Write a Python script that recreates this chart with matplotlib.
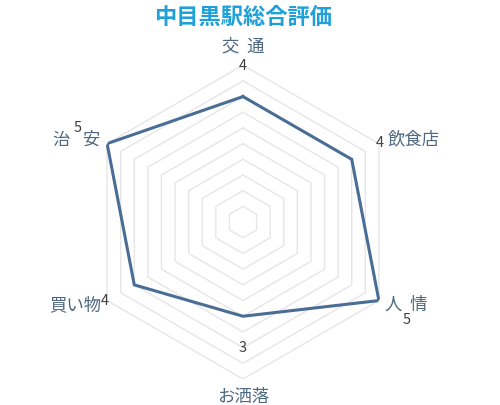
import numpy as np
import matplotlib
matplotlib.use('Agg')
import matplotlib.pyplot as plt

plt.rcParams['font.family'] = ['Noto Sans CJK JP', 'DejaVu Sans']

# data
categories = ['交  通', '飲食店', '人  情', 'お洒落', '買い物', '治安']
scores = [4, 4, 5, 3, 4, 5]
rings = [0.5, 1.0, 1.5, 2.0, 2.5, 3.0, 3.5, 4.0, 4.5, 5.0]

angles = np.deg2rad(np.arange(len(categories)) * 60)
closed = np.append(angles, angles[0])

fig = plt.figure(figsize=(5.0, 4.06), dpi=100)
ax = fig.add_axes([0.172, 0.064, 0.628, 0.773], projection='polar')
ax.set_theta_offset(np.pi / 2)
ax.set_theta_direction(-1)
ax.set_ylim(0, 5)
ax.axis('off')

# hexagon grid
for r in rings:
    ax.plot(closed, [r] * len(closed), color='#e6e6e6', lw=1.0, zorder=1)

# data line
vals = scores + scores[:1]
ax.plot(closed, vals, color='#4a6d96', lw=2.2, zorder=3, solid_joinstyle='miter')

lab_color = '#4d6880'
num_color = '#404040'
fs_lab = 12.5
fs_num = 10.5

# category labels (theta deg, r, ha)
lab_pos = [(0, 5.64, 'center'), (60, 5.32, 'left'), (120, 5.22, 'left'),
           (180, 5.55, 'center'), (240, 5.22, 'right'), None]
for name, pos in zip(categories, lab_pos):
    if pos is None:
        continue
    th, r, ha = pos
    ax.text(np.deg2rad(th), r, name, ha=ha, va='center', fontsize=fs_lab,
            color=lab_color, clip_on=False)

# 治安 label is split around its value label
ax.text(np.deg2rad(295.8), 6.12, categories[5][0], ha='right', va='center',
        fontsize=fs_lab, color=lab_color, clip_on=False)
ax.text(np.deg2rad(297.5), 5.78, categories[5][1], ha='left', va='center',
        fontsize=fs_lab, color=lab_color, clip_on=False)

# value labels
num_pos = [(0, 5.02), (59.7, 5.05), (120.6, 6.07), (180, 3.98), (240.6, 5.05), (299.9, 6.06)]
for v, (th, r) in zip(scores, num_pos):
    ax.text(np.deg2rad(th), r, str(v), ha='center', va='center', fontsize=fs_num,
            color=num_color, clip_on=False)

fig.text(0.486, 0.958, '中目黒駅総合評価', ha='center', va='center', fontsize=16,
         fontweight='bold', color='#1ea0d8')

fig.savefig('out.png', dpi=100, facecolor='white')
